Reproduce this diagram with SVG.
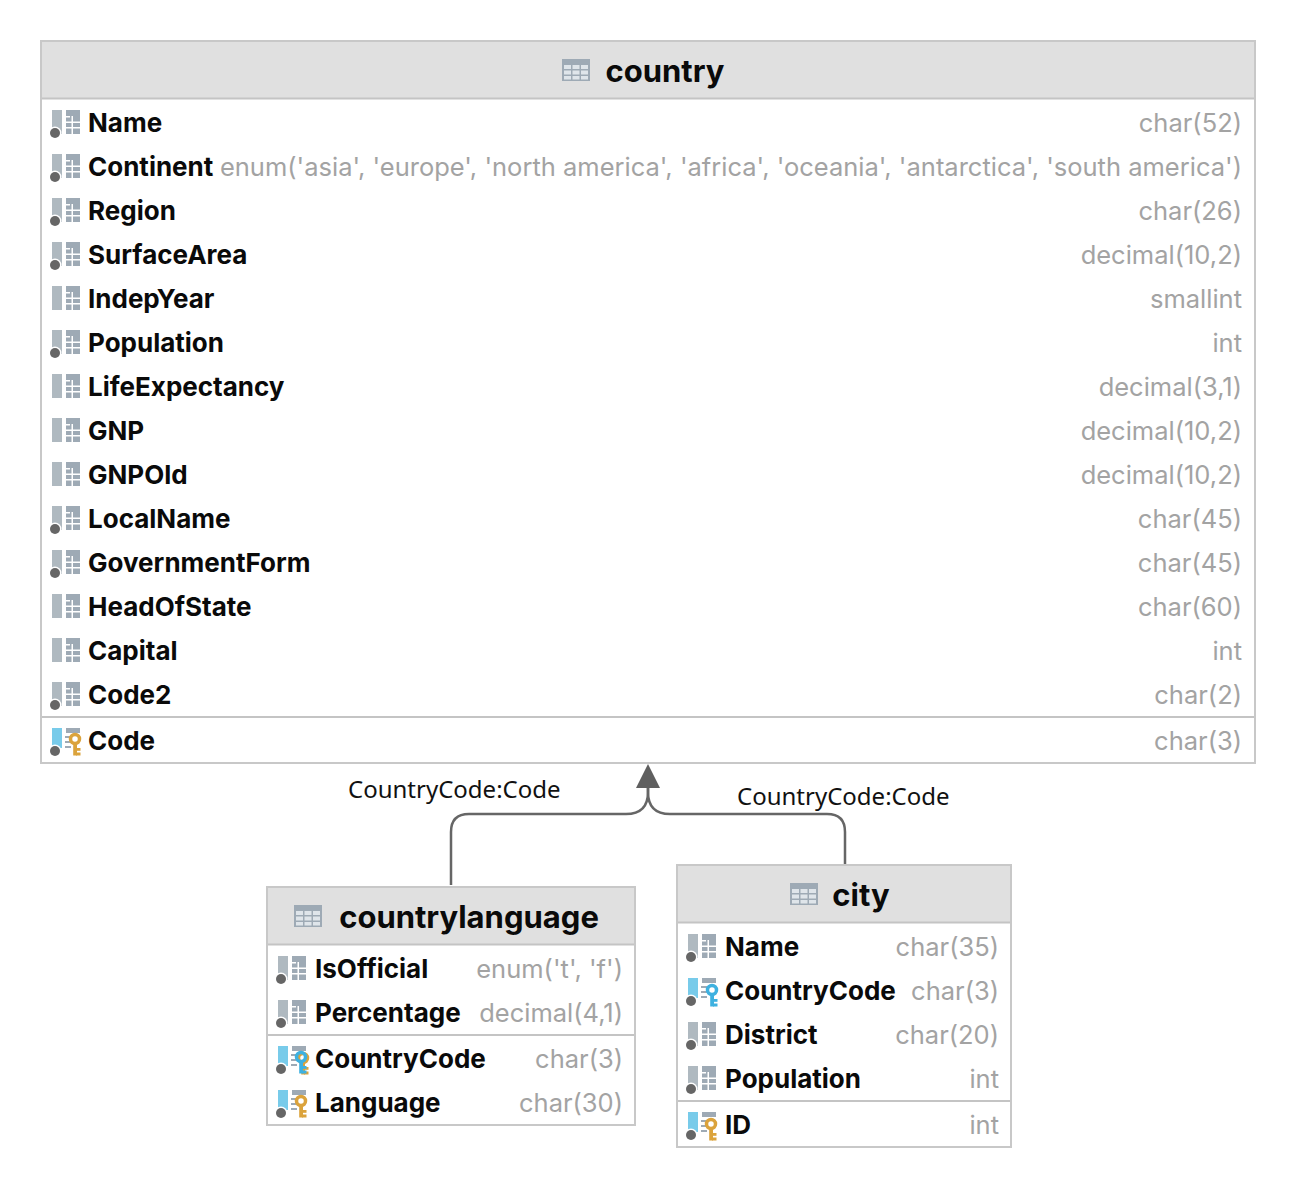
<svg xmlns="http://www.w3.org/2000/svg" width="1296" height="1188" viewBox="0 0 1296 1188">
<style>
.box{fill:#fff;stroke:#c8c8c8;stroke-width:2}
.head{fill:#e0e0e0}
.sep{stroke:#c4c4c4;stroke-width:2;fill:none}
.title{font-family:Inter,"Liberation Sans",sans-serif;font-weight:700;font-size:31px;fill:#0a0a0a;text-anchor:middle}
.n{font-family:Inter,"Liberation Sans",sans-serif;font-weight:700;font-size:26px;fill:#0a0a0a}
.t{font-family:Inter,"Liberation Sans",sans-serif;font-size:25.5px;fill:#a3a3a3;text-anchor:end}
.lab{font-family:"Noto Sans","Open Sans",sans-serif;font-size:24px;fill:#111}
.conn{fill:none;stroke:#666;stroke-width:2.5}
</style>
<defs>
<g id="tbl"><rect x="0" y="0" width="28" height="22" fill="#9eaab5"/><g fill="#dfe5ea"><rect x="2" y="6" width="7" height="4"/><rect x="10.500" y="6" width="7" height="4"/><rect x="19" y="6" width="7" height="4"/><rect x="2" y="11.500" width="7" height="4"/><rect x="10.500" y="11.500" width="7" height="4"/><rect x="19" y="11.500" width="7" height="4"/><rect x="2" y="17" width="7" height="3.500"/><rect x="10.500" y="17" width="7" height="3.500"/><rect x="19" y="17" width="7" height="3.500"/></g></g>
<g id="col"><rect x="0" y="0" width="10" height="24" fill="#afb9c0"/><rect x="14" y="0" width="14" height="24" fill="#9eaab5"/><g fill="#fff"><rect x="14" y="6" width="4" height="1.500"/><rect x="14" y="11.500" width="14" height="1.500"/><rect x="14" y="17" width="14" height="1.500"/><rect x="19.500" y="6" width="1.500" height="18"/><rect x="14" y="0" width="0" height="0"/></g></g>
<g id="dot"><circle cx="3" cy="23" r="6.500" fill="#fff"/><circle cx="3" cy="23" r="5" fill="#666"/></g>
<g id="keycol"><rect x="0" y="0" width="10" height="20" fill="#78cbea"/><rect x="14" y="0" width="14" height="5" fill="#9eaab5"/><rect x="13" y="8" width="6" height="2" fill="#9eaab5"/><rect x="13" y="13" width="6" height="2" fill="#9eaab5"/><rect x="13" y="18" width="6" height="2" fill="#9eaab5"/></g>
<g id="key"><circle cx="0" cy="0" r="4.500" fill="none" stroke-width="3.500" stroke="currentColor"/><rect x="-1.800" y="4" width="3.800" height="12.500" fill="currentColor"/><rect x="1" y="9" width="4.500" height="2.800" fill="currentColor"/><rect x="1" y="13.500" width="4.500" height="3" fill="currentColor"/></g>
</defs>
<g id="connectors">
<path class="conn" d="M451 885V832Q451 814 469 814H626Q648 814 648 792V785"/>
<path class="conn" d="M845 864V832Q845 814 827 814H670Q648 814 648 792V785"/>
<polygon points="648,764 636,788 660,788" fill="#5f5f5f"/>
<text class="lab" x="348" y="798">CountryCode:Code</text>
<text class="lab" x="737" y="805">CountryCode:Code</text>
</g>
<g id="country">
<rect class="box" x="41" y="41" width="1214" height="722"/>
<rect class="head" x="42" y="42" width="1212" height="56"/>
<path class="sep" d="M42 98.500H1254M42 717H1254"/>
<use href="#tbl" x="562" y="59"/>
<text class="title" x="665" y="82">country</text>
<g id="c-rows">
<use href="#col" x="52" y="110"/><use href="#dot" x="52" y="110"/><text class="n" x="88" y="132">Name</text><text class="t" x="1242" y="132">char(52)</text>
<use href="#col" x="52" y="154"/><use href="#dot" x="52" y="154"/><text class="n" x="88" y="176">Continent</text><text class="t" x="1242" y="176">enum('asia', 'europe', 'north america', 'africa', 'oceania', 'antarctica', 'south america')</text>
<use href="#col" x="52" y="198"/><use href="#dot" x="52" y="198"/><text class="n" x="88" y="220">Region</text><text class="t" x="1242" y="220">char(26)</text>
<use href="#col" x="52" y="242"/><use href="#dot" x="52" y="242"/><text class="n" x="88" y="264">SurfaceArea</text><text class="t" x="1242" y="264">decimal(10,2)</text>
<use href="#col" x="52" y="286"/><text class="n" x="88" y="308">IndepYear</text><text class="t" x="1242" y="308">smallint</text>
<use href="#col" x="52" y="330"/><use href="#dot" x="52" y="330"/><text class="n" x="88" y="352">Population</text><text class="t" x="1242" y="352">int</text>
<use href="#col" x="52" y="374"/><text class="n" x="88" y="396">LifeExpectancy</text><text class="t" x="1242" y="396">decimal(3,1)</text>
<use href="#col" x="52" y="418"/><text class="n" x="88" y="440">GNP</text><text class="t" x="1242" y="440">decimal(10,2)</text>
<use href="#col" x="52" y="462"/><text class="n" x="88" y="484">GNPOld</text><text class="t" x="1242" y="484">decimal(10,2)</text>
<use href="#col" x="52" y="506"/><use href="#dot" x="52" y="506"/><text class="n" x="88" y="528">LocalName</text><text class="t" x="1242" y="528">char(45)</text>
<use href="#col" x="52" y="550"/><use href="#dot" x="52" y="550"/><text class="n" x="88" y="572">GovernmentForm</text><text class="t" x="1242" y="572">char(45)</text>
<use href="#col" x="52" y="594"/><text class="n" x="88" y="616">HeadOfState</text><text class="t" x="1242" y="616">char(60)</text>
<use href="#col" x="52" y="638"/><text class="n" x="88" y="660">Capital</text><text class="t" x="1242" y="660">int</text>
<use href="#col" x="52" y="682"/><use href="#dot" x="52" y="682"/><text class="n" x="88" y="704">Code2</text><text class="t" x="1242" y="704">char(2)</text>
<use href="#keycol" x="52" y="728"/><use href="#dot" x="52" y="728"/><use href="#key" x="75" y="739" color="#dba33c"/><text class="n" x="88" y="750">Code</text><text class="t" x="1242" y="750">char(3)</text>
</g>
</g>
<g id="countrylanguage">
<rect class="box" x="267" y="887" width="368" height="238"/>
<rect class="head" x="268" y="888" width="366" height="56"/>
<path class="sep" d="M268 944.500H634M268 1035H634"/>
<use href="#tbl" x="294" y="905"/>
<text class="title" x="469" y="928">countrylanguage</text>
<use href="#col" x="278" y="956"/><use href="#dot" x="278" y="956"/><text class="n" x="315" y="978">IsOfficial</text><text class="t" x="623" y="978">enum('t', 'f')</text>
<use href="#col" x="278" y="1000"/><use href="#dot" x="278" y="1000"/><text class="n" x="315" y="1022">Percentage</text><text class="t" x="623" y="1022">decimal(4,1)</text>
<use href="#keycol" x="278" y="1046"/><use href="#dot" x="278" y="1046"/><use href="#key" x="303" y="1058" color="#dba33c"/><use href="#key" x="301" y="1057" color="#3eb1e0"/><text class="n" x="315" y="1068">CountryCode</text><text class="t" x="623" y="1068">char(3)</text>
<use href="#keycol" x="278" y="1090"/><use href="#dot" x="278" y="1090"/><use href="#key" x="301" y="1101" color="#dba33c"/><text class="n" x="315" y="1112">Language</text><text class="t" x="623" y="1112">char(30)</text>
</g>
<g id="city">
<rect class="box" x="677" y="865" width="334" height="282"/>
<rect class="head" x="678" y="866" width="332" height="56"/>
<path class="sep" d="M678 922.500H1010M678 1101H1010"/>
<use href="#tbl" x="790" y="883"/>
<text class="title" x="861" y="906">city</text>
<use href="#col" x="688" y="934"/><use href="#dot" x="688" y="934"/><text class="n" x="725" y="956">Name</text><text class="t" x="999" y="956">char(35)</text>
<use href="#keycol" x="688" y="978"/><use href="#dot" x="688" y="978"/><use href="#key" x="712" y="990" color="#3eb1e0"/><text class="n" x="725" y="1000">CountryCode</text><text class="t" x="999" y="1000">char(3)</text>
<use href="#col" x="688" y="1022"/><use href="#dot" x="688" y="1022"/><text class="n" x="725" y="1044">District</text><text class="t" x="999" y="1044">char(20)</text>
<use href="#col" x="688" y="1066"/><use href="#dot" x="688" y="1066"/><text class="n" x="725" y="1088">Population</text><text class="t" x="999" y="1088">int</text>
<use href="#keycol" x="688" y="1112"/><use href="#dot" x="688" y="1112"/><use href="#key" x="711" y="1124" color="#dba33c"/><text class="n" x="725" y="1134">ID</text><text class="t" x="999" y="1134">int</text>
</g>
</svg>
